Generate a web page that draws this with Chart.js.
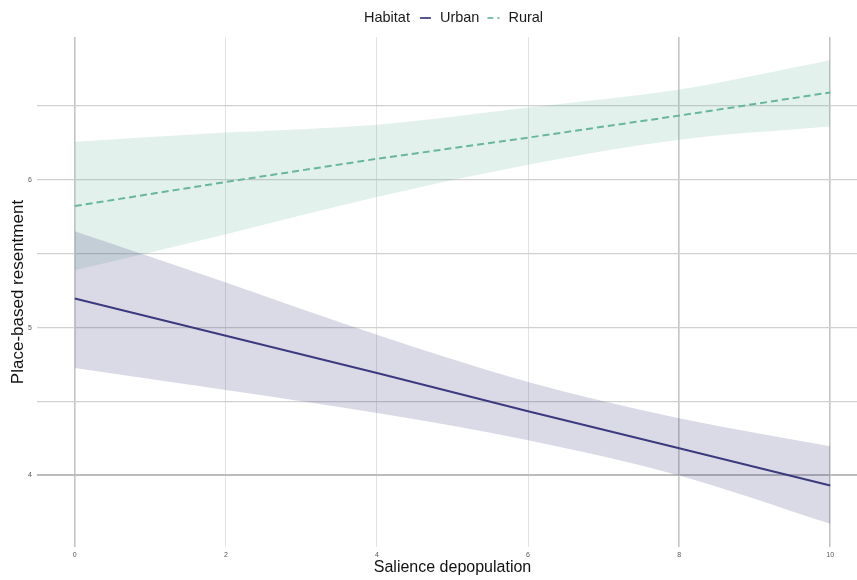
<!DOCTYPE html>
<html>
<head>
<meta charset="utf-8">
<script src="https://cdn.jsdelivr.net/npm/chart.js@4"></script>
<style>
html,body{margin:0;padding:0;background:#fff;overflow:hidden;}
#wrap{width:857px;height:580px;position:relative;overflow:hidden;}
</style>
</head>
<body>
<div id="wrap"><canvas id="c" width="868" height="580"></canvas></div>
<script>
// ---- data ----
const xValues = [0, 2, 4, 6, 8, 10];
const urbanFit   = [5.197, 4.946, 4.694, 4.435, 4.184, 3.932];
const urbanUpper = [5.653, 5.306, 4.952, 4.633, 4.388, 4.197];
const urbanLower = [4.728, 4.578, 4.422, 4.238, 4.000, 3.673];
const ruralFit   = [5.823, 5.986, 6.143, 6.286, 6.435, 6.592];
const ruralUpper = [6.259, 6.320, 6.374, 6.490, 6.612, 6.810];
const ruralLower = [5.388, 5.633, 5.884, 6.102, 6.272, 6.361];
const xTicks = [0, 2, 4, 6, 8, 10];
const yTicks = [4, 4.5, 5, 5.5, 6, 6.5];
const yLabels = [4, 5, 6];
const legendTitle = 'Habitat';
const seriesNames = ['Urban', 'Rural'];

const URBAN = '#3c3a7e';
const RURAL = '#68b79b';
const URBAN_FILL = 'rgba(60,58,126,0.19)';
const RURAL_FILL = 'rgba(104,183,155,0.19)';
const FONT = "'Liberation Sans', Arial, sans-serif";

const pts = arr => xValues.map((x, i) => ({x: x, y: arr[i]}));

const legendPlugin = {
  id: 'habitatLegend',
  afterDraw(chart) {
    const ctx = chart.ctx;
    ctx.save();
    ctx.font = '14.5px ' + FONT;
    ctx.fillStyle = '#1a1a1a';
    ctx.textBaseline = 'middle';
    const y = 18;
    let x = 364;
    ctx.fillText(legendTitle, x, y);
    x += ctx.measureText(legendTitle).width + 10;
    ctx.strokeStyle = 'rgba(60,58,126,0.85)'; ctx.lineWidth = 2; ctx.setLineDash([]);
    ctx.beginPath(); ctx.moveTo(x, y); ctx.lineTo(x + 11, y); ctx.stroke();
    x += 11 + 9;
    ctx.fillText(seriesNames[0], x, y);
    x += ctx.measureText(seriesNames[0]).width + 8;
    ctx.strokeStyle = 'rgba(104,183,155,0.85)'; ctx.setLineDash([6, 4]);
    ctx.beginPath(); ctx.moveTo(x, y); ctx.lineTo(x + 12, y); ctx.stroke();
    ctx.setLineDash([]);
    x += 12 + 9;
    ctx.fillText(seriesNames[1], x, y);
    ctx.restore();
  }
};

const band = (data, fill, color) => ({
  data: data, fill: fill, backgroundColor: color, borderWidth: 0,
  pointRadius: 0, cubicInterpolationMode: 'monotone', order: 2
});

new Chart(document.getElementById('c'), {
  type: 'line',
  data: {
    datasets: [
      Object.assign(band(pts(urbanLower), false, URBAN_FILL), {label: 'uL'}),
      Object.assign(band(pts(urbanUpper), '-1', URBAN_FILL), {label: 'uU'}),
      Object.assign(band(pts(ruralLower), false, RURAL_FILL), {label: 'rL'}),
      Object.assign(band(pts(ruralUpper), '-1', RURAL_FILL), {label: 'rU'}),
      {label: seriesNames[0], data: pts(urbanFit), borderColor: URBAN, borderWidth: 2,
       pointRadius: 0, fill: false, order: 0},
      {label: seriesNames[1], data: pts(ruralFit), borderColor: RURAL, borderWidth: 2,
       borderDash: [7, 4], pointRadius: 0, fill: false, order: 0}
    ]
  },
  options: {
    responsive: false,
    animation: false,
    layout: {padding: {top: 37, right: 0, bottom: 0, left: 0}},
    plugins: {legend: {display: false}, tooltip: {enabled: false}},
    scales: {
      x: {
        type: 'linear', min: -0.5, max: 10.5,
        afterBuildTicks: s => { s.ticks = xTicks.map(v => ({value: v})); },
        afterFit: s => { s.height = 33; },
        border: {display: false},
        grid: {
          drawTicks: false,
          color: c => ([0, 8, 10].includes(c.tick.value) ? '#c4c4c4' : '#e2e2e2'),
          lineWidth: c => ([0, 8, 10].includes(c.tick.value) ? 1.6 : 1)
        },
        ticks: {color: '#555', font: {family: FONT, size: 7}, padding: 4, maxRotation: 0},
        title: {display: true, text: 'Salience depopulation', color: '#111',
                font: {family: FONT, size: 16}, padding: {top: 0, bottom: 3}}
      },
      y: {
        type: 'linear', min: 3.516, max: 6.967,
        afterBuildTicks: s => { s.ticks = yTicks.map(v => ({value: v})); },
        afterFit: s => { s.width = 37; },
        border: {display: false},
        grid: {
          drawTicks: false,
          color: c => (c.tick.value === 4 ? '#bdbdbd' : '#d0d0d0'),
          lineWidth: c => (c.tick.value === 4 ? 2 : 1.3)
        },
        ticks: {color: '#555', font: {family: FONT, size: 7}, padding: 5,
                callback: v => (yLabels.includes(v) ? String(v) : '')},
        title: {display: true, text: 'Place-based resentment', color: '#111',
                font: {family: FONT, size: 17}, padding: {top: 8, bottom: 0}}
      }
    }
  },
  plugins: [legendPlugin]
});
</script>
</body>
</html>
